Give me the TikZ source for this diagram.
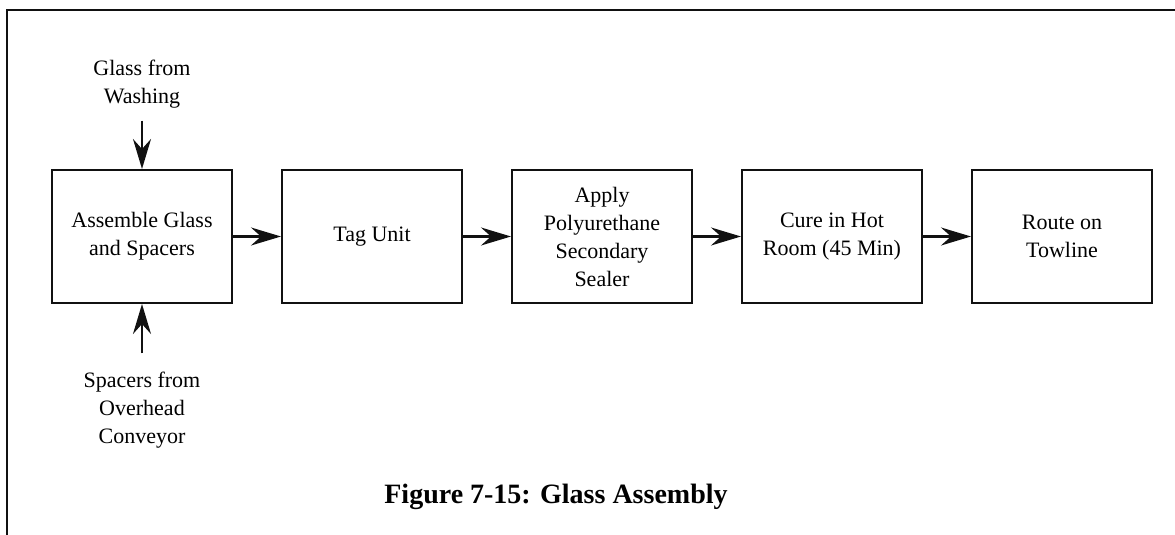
\documentclass[tikz,border=0pt]{standalone}
\usepackage{fontspec}
\setmainfont{Liberation Serif}
\usepackage{tikz}
\usetikzlibrary{
  arrows.meta,
  positioning
}
\definecolor{gaInk}{HTML}{111111}
\newcommand{\gafont}{\fontsize{11}{14}\selectfont}
\tikzset{
  gabox/.style={
    draw=gaInk, line width=1pt, minimum width=90pt, minimum height=66.5pt,
    inner sep=1pt, font=\gafont, align=center
  },
  feed/.style={font=\gafont, align=center, inner sep=1pt},
  flow/.style={-{Stealth[length=15pt, width=9pt, inset=5pt]}, line width=1.1pt, gaInk},
  figcap/.style={font=\fontsize{14}{16}\selectfont\bfseries},
  frameline/.style={line width=1.4pt, gaInk}
}

\begin{document}
\begin{tikzpicture}[x=0.5pt, y=-0.5pt, node distance=24pt]
  \useasboundingbox (0,0) rectangle (1175,535);
  \draw[frameline] (7,535) -- (7,10) -- (1175,10);
  \node[gabox] (asm) at (142,236.5) {Assemble Glass\\and Spacers};
  \node[gabox, right=of asm] (tag) {Tag Unit};
  \node[gabox, right=of tag] (pur) {Apply\\Polyurethane\\Secondary\\Sealer};
  \node[gabox, right=of pur] (cure) {Cure in Hot\\Room (45 Min)};
  \node[gabox, right=of cure] (tow) {Route on\\Towline};
  \node[feed] (wash) at (142,84) {Glass from\\Washing};
  \node[feed] (spc) at (142,410) {Spacers from\\Overhead\\Conveyor};
  \draw[flow, shorten <=5pt] (wash) -- (asm);
  \draw[flow, shorten <=8pt] (spc) -- (asm);
  \draw[flow] (asm) -- (tag);
  \draw[flow] (tag) -- (pur);
  \draw[flow] (pur) -- (cure);
  \draw[flow] (cure) -- (tow);
  \node[figcap] (cap) at (556,497) {Figure 7-15: Glass Assembly};
\end{tikzpicture}
\end{document}
